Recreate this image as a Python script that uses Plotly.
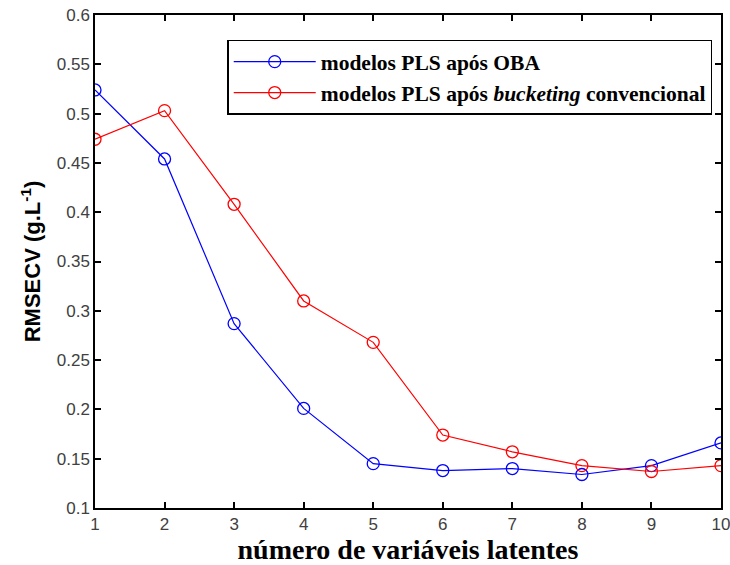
import plotly.graph_objects as go

n_lv = [1, 2, 3, 4, 5, 6, 7, 8, 9, 10]
rmsecv_oba = [0.524, 0.454, 0.287, 0.201, 0.145, 0.138, 0.140, 0.134, 0.143, 0.166]
rmsecv_bucket = [0.474, 0.503, 0.408, 0.310, 0.268, 0.174, 0.157, 0.143, 0.137, 0.143]
x_ticks = [1, 2, 3, 4, 5, 6, 7, 8, 9, 10]
y_ticks = [0.1, 0.15, 0.2, 0.25, 0.3, 0.35, 0.4, 0.45, 0.5, 0.55, 0.6]

fig = go.Figure()
fig.add_trace(go.Scatter(
    x=n_lv, y=rmsecv_oba, mode="lines+markers",
    name="<b>modelos PLS após OBA</b>",
    line=dict(color="#0000ff", width=1.2),
    marker=dict(symbol="circle-open", size=12, color="#0000ff", line=dict(width=1.3)),
))
fig.add_trace(go.Scatter(
    x=n_lv, y=rmsecv_bucket, mode="lines+markers",
    name="<b>modelos PLS após <i>bucketing</i> convencional</b>",
    line=dict(color="#ff0000", width=1.2),
    marker=dict(symbol="circle-open", size=12, color="#ff0000", line=dict(width=1.3)),
))

axis_common = dict(
    showline=True, linecolor="black", linewidth=1.5, mirror="ticks",
    ticks="inside", ticklen=6, tickcolor="black", tickwidth=1.5,
    showgrid=False, zeroline=False, automargin=False,
    ticklabeloverflow="allow",
    tickfont=dict(family="Liberation Sans, Arial", size=17, color="#404040"),
)

fig.update_layout(
    width=730, height=565,
    margin=dict(l=95, r=9, t=15, b=57),
    plot_bgcolor="white", paper_bgcolor="white",
    xaxis=dict(range=[1, 10], tickvals=x_ticks, **axis_common,
               title=dict(text="<b>número de variáveis latentes</b>",
                          font=dict(family="Liberation Serif, Times New Roman", size=28, color="black"),
                          standoff=4)),
    yaxis=dict(range=[0.1, 0.6], tickvals=y_ticks,
               ticktext=[f"{v:g}" for v in y_ticks], **axis_common,
               title=dict(text="<b>RMSECV (g.L<sup>-1</sup>)</b>",
                          font=dict(family="Liberation Sans, Arial", size=22, color="black"),
                          standoff=10)),
    legend=dict(x=0.986, y=0.95, xanchor="right", yanchor="top",
                bordercolor="black", borderwidth=1.5, bgcolor="white",
                font=dict(family="Liberation Serif, Times New Roman", size=21.5, color="black"),
                itemwidth=82, tracegroupgap=0),
    showlegend=True,
)

fig.write_html("out.html")
